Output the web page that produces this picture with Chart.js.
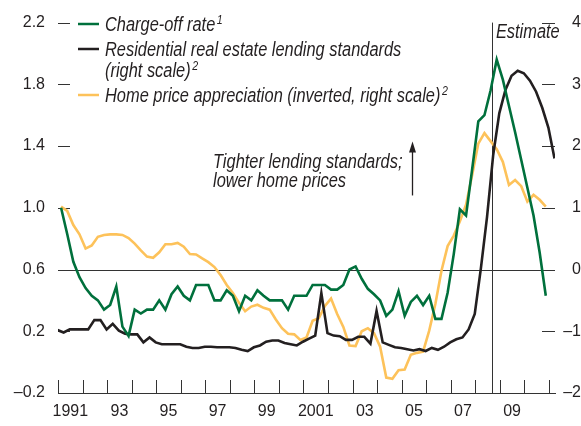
<!DOCTYPE html>
<html>
<head>
<meta charset="utf-8">
<script src="https://cdn.jsdelivr.net/npm/chart.js@4"></script>
<style>
    html, body { margin: 0; padding: 0; background: #fff; }
</style>
</head>
<body>
<canvas id="chart" width="581" height="426"></canvas>
<script>
// Dados (trimestrais, a partir de 1991)
const firstYear = 1991;

// Taxa de charge-off (escala esquerda)
const chargeOff = [
    1.00, 0.83, 0.65, 0.55, 0.48, 0.43, 0.40, 0.34, 0.37, 0.49,
    0.23, 0.17, 0.34, 0.315, 0.34, 0.34, 0.40, 0.34, 0.44, 0.49,
    0.43, 0.40, 0.50, 0.50, 0.50, 0.40, 0.40, 0.465, 0.43, 0.33,
    0.43, 0.40, 0.465, 0.43, 0.40, 0.40, 0.40, 0.34, 0.43, 0.43,
    0.43, 0.50, 0.50, 0.50, 0.47, 0.47, 0.50, 0.60, 0.62, 0.54,
    0.475, 0.44, 0.40, 0.30, 0.34, 0.46, 0.30, 0.39, 0.43, 0.37,
    0.43, 0.28, 0.28, 0.45, 0.70, 0.99, 0.95, 1.25, 1.56, 1.60,
    1.76, 1.96, 1.83, 1.66, 1.49, 1.31, 1.13, 0.95, 0.71, 0.43
];

// Padrões de crédito imobiliário (escala direita)
const lendingStandards = [
    -0.98, -1.02, -0.97, -0.97, -0.97, -0.97, -0.82, -0.82, -0.97, -0.88,
    -0.99, -1.04, -1.05, -1.05, -1.18, -1.10, -1.18, -1.21, -1.21, -1.21,
    -1.21, -1.25, -1.27, -1.27, -1.25, -1.25, -1.26, -1.26, -1.26, -1.27,
    -1.30, -1.32, -1.26, -1.23, -1.17, -1.15, -1.15, -1.19, -1.21, -1.23,
    -1.17, -1.12, -1.07, -0.38, -1.03, -1.07, -1.08, -1.14, -1.14, -1.09,
    -1.09, -1.20, -0.67, -1.18, -1.22, -1.26, -1.27, -1.29, -1.31, -1.29,
    -1.32, -1.27, -1.30, -1.25, -1.18, -1.13, -1.10, -0.97, -0.72, 0.02,
    0.85, 1.85, 2.53, 2.91, 3.14, 3.22, 3.18, 3.06, 2.88, 2.62,
    2.30, 1.80
];

// Valorização dos imóveis, invertida (escala direita)
const homePrices = [
    1.02, 0.95, 0.72, 0.57, 0.34, 0.39, 0.53, 0.56, 0.57, 0.57,
    0.56, 0.51, 0.42, 0.31, 0.21, 0.19, 0.28, 0.41, 0.41, 0.43,
    0.37, 0.25, 0.245, 0.18, 0.12, 0.04, -0.09, -0.25, -0.38, -0.54,
    -0.675, -0.60, -0.57, -0.62, -0.65, -0.81, -0.95, -1.04, -1.05, -1.14,
    -1.10, -0.83, -0.79, -0.59, -0.47, -0.72, -0.93, -1.23, -1.24, -1.00,
    -0.95, -1.03, -1.25, -1.75, -1.77, -1.63, -1.62, -1.38, -1.35, -1.33,
    -0.99, -0.56, -0.02, 0.38, 0.55, 0.78, 1.05, 1.53, 2.04, 2.21,
    2.08, 1.95, 1.745, 1.37, 1.45, 1.35, 1.10, 1.21, 1.13, 1.02
];

// Eixos
const labelYears = [1991, 1993, 1995, 1997, 1999, 2001, 2003, 2005, 2007, 2009];
const yearLabels = ['1991', '93', '95', '97', '99', '2001', '03', '05', '07', '09'];
const leftTicks = [-0.2, 0.2, 0.6, 1.0, 1.4, 1.8, 2.2];
const rightTicks = [-2, -1, 0, 1, 2, 3, 4];
const estimateYear = 2008.68;

const GREEN = '#00703c';
const BLACK = '#231f20';
const ORANGE = '#fdc25a';
const TEXT = '#231f20';
const FAMILY = "'Liberation Sans', Arial, sans-serif";
const NARROW = 0.82; // simula fonte condensada

// Pontos no meio do trimestre (green/orange) e início do trimestre (black)
function toPoints(values, offset) {
    return values.map((v, i) => ({ x: firstYear + offset + i * 0.25, y: v }));
}

function dash(v) {
    return String(v).replace('-', '\u2013');
}

// Texto itálico condensado
function narrowText(ctx, str, x, y, size) {
    ctx.save();
    ctx.font = 'italic ' + size + 'px ' + FAMILY;
    ctx.translate(x, y);
    ctx.scale(NARROW, 1);
    ctx.fillText(str, 0, 0);
    const w = ctx.measureText(str).width * NARROW;
    ctx.restore();
    return w;
}

// Marcas dos eixos, linha zero, linha de estimativa, legenda e anotações
const decorPlugin = {
    id: 'decor',
    beforeDatasetsDraw(chart) {
        const { ctx, chartArea: a, scales } = chart;
        const x = scales.x, yl = scales.y, yr = scales.y1;
        ctx.save();
        ctx.strokeStyle = '#333';
        ctx.lineWidth = 1;
        ctx.beginPath();
        leftTicks.forEach(v => {
            const py = Math.round(yl.getPixelForValue(v)) + 0.5;
            ctx.moveTo(a.left, py); ctx.lineTo(a.left + 12, py);
        });
        rightTicks.forEach(v => {
            const py = Math.round(yr.getPixelForValue(v)) + 0.5;
            ctx.moveTo(a.right - 13, py); ctx.lineTo(a.right, py);
        });
        for (let yr2 = 1991; yr2 <= 2011; yr2++) {
            const px = Math.round(x.getPixelForValue(yr2)) + 0.5;
            ctx.moveTo(px, a.bottom); ctx.lineTo(px, a.bottom - 13);
        }
        // linha do zero (0.6 à esquerda = 0 à direita)
        const zy = Math.round(yl.getPixelForValue(0.6)) + 0.5;
        ctx.moveTo(a.left, zy); ctx.lineTo(a.right, zy);
        // estimativa
        const ex = Math.round(x.getPixelForValue(estimateYear)) + 0.5;
        ctx.moveTo(ex, a.top); ctx.lineTo(ex, a.bottom);
        ctx.stroke();
        ctx.restore();
    },
    afterDraw(chart) {
        const { ctx, scales } = chart;
        const x = scales.x, yl = scales.y;
        ctx.save();
        ctx.fillStyle = TEXT;
        ctx.textBaseline = 'alphabetic';
        ctx.textAlign = 'left';

        // legenda
        const items = [
            { color: GREEN, y: 24, lines: [['Charge-off rate', '1']] },
            { color: BLACK, y: 49, lines: [['Residential real estate lending standards', ''], ['(right scale)', '2']] },
            { color: ORANGE, y: 95, lines: [['Home price appreciation (inverted, right scale)', '2']] }
        ];
        items.forEach(item => {
            ctx.strokeStyle = item.color;
            ctx.lineWidth = 2.5;
            ctx.beginPath();
            ctx.moveTo(78, item.y); ctx.lineTo(99, item.y);
            ctx.stroke();
            item.lines.forEach((ln, k) => {
                const base = item.y + 7 + k * 21;
                const w = narrowText(ctx, ln[0], 105, base, 20);
                if (ln[1]) narrowText(ctx, ln[1], 105 + w + 1.5, base - 7, 13);
            });
        });

        // anotação
        narrowText(ctx, 'Tighter lending standards;', 213, 168, 20);
        narrowText(ctx, 'lower home prices', 213, 187, 20);

        const ax = Math.round(x.getPixelForValue(2005.42)) + 0.5;
        const yTop = yl.getPixelForValue(1.43);
        const yBot = yl.getPixelForValue(1.08);
        ctx.strokeStyle = TEXT;
        ctx.lineWidth = 1.3;
        ctx.beginPath();
        ctx.moveTo(ax, yBot); ctx.lineTo(ax, yTop + 8);
        ctx.stroke();
        ctx.beginPath();
        ctx.moveTo(ax, yTop);
        ctx.lineTo(ax - 3.5, yTop + 11);
        ctx.lineTo(ax + 3.5, yTop + 11);
        ctx.closePath();
        ctx.fill();

        narrowText(ctx, 'Estimate', x.getPixelForValue(estimateYear) + 4, 38, 20);
        ctx.restore();
    }
};

const ctx = document.getElementById('chart').getContext('2d');
new Chart(ctx, {
    type: 'line',
    data: {
        datasets: [
            {
                label: 'Charge-off rate',
                data: toPoints(chargeOff, 0.125),
                borderColor: GREEN,
                borderWidth: 2.6,
                yAxisID: 'y'
            },
            {
                label: 'Residential real estate lending standards (right scale)',
                data: toPoints(lendingStandards, -0.02),
                borderColor: BLACK,
                borderWidth: 2.6,
                yAxisID: 'y1'
            },
            {
                label: 'Home price appreciation (inverted, right scale)',
                data: toPoints(homePrices, 0.125),
                borderColor: ORANGE,
                borderWidth: 2.6,
                yAxisID: 'y1'
            }
        ]
    },
    options: {
        responsive: false,
        animation: false,
        devicePixelRatio: 1,
        elements: {
            point: { radius: 0 },
            line: { tension: 0, borderJoinStyle: 'miter' }
        },
        layout: { padding: { top: 17, left: 0, right: 0, bottom: 0 } },
        plugins: {
            legend: { display: false },
            tooltip: { enabled: false }
        },
        scales: {
            x: {
                type: 'linear',
                min: 1991,
                max: 2011.25,
                afterBuildTicks: s => { s.ticks = labelYears.map(v => ({ value: v })); },
                afterFit: s => { s.height = 33; },
                grid: { display: false, drawTicks: false },
                border: { display: true, color: '#333', width: 1 },
                ticks: {
                    autoSkip: false,
                    maxRotation: 0,
                    padding: 9,
                    labelOffset: 12.3,
                    color: TEXT,
                    font: { family: FAMILY, size: 16 },
                    callback: v => yearLabels[labelYears.indexOf(v)]
                }
            },
            y: {
                position: 'left',
                min: -0.2,
                max: 2.2,
                afterBuildTicks: s => { s.ticks = leftTicks.map(v => ({ value: v })); },
                afterFit: s => { s.width = 58; },
                grid: { display: false, drawTicks: false },
                border: { display: false },
                ticks: {
                    padding: 13,
                    color: TEXT,
                    font: { family: FAMILY, size: 16 },
                    callback: v => dash(v.toFixed(1))
                }
            },
            y1: {
                position: 'right',
                min: -2,
                max: 4,
                afterBuildTicks: s => { s.ticks = rightTicks.map(v => ({ value: v })); },
                afterFit: s => { s.width = 26; },
                grid: { display: false, drawTicks: false },
                border: { display: false },
                ticks: {
                    padding: 5,
                    crossAlign: 'far',
                    color: TEXT,
                    font: { family: FAMILY, size: 16 },
                    callback: v => dash(v)
                }
            }
        }
    },
    plugins: [decorPlugin]
});
</script>
</body>
</html>
